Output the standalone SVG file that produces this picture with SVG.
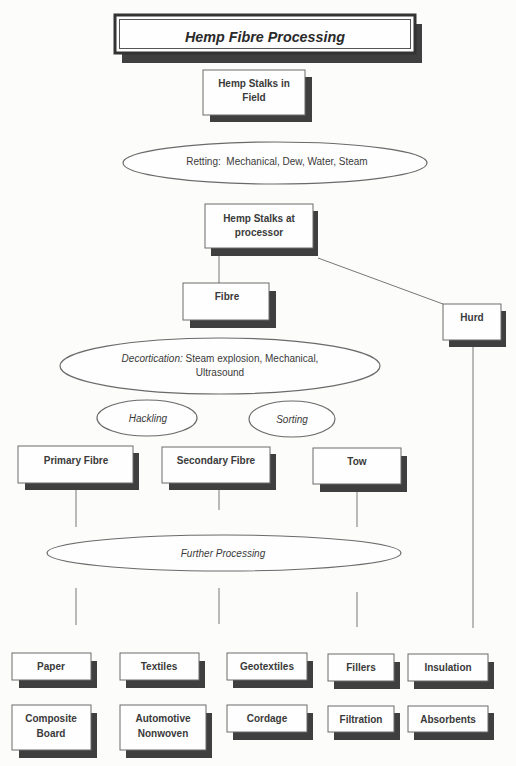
<svg xmlns="http://www.w3.org/2000/svg" width="516" height="766" viewBox="0 0 516 766">
<style>
.bg{fill:#fcfcfa}
.sh{fill:#3f3f3f}
.bx{fill:#fefefe;stroke:#6a6a6a;stroke-width:1}
.el{fill:#fefefe;stroke:#6a6a6a;stroke-width:1.2}
.t{font-family:"Liberation Sans",Arial,sans-serif;font-size:10px;font-weight:bold;fill:#3a3a3a;text-anchor:middle}
.r{font-family:"Liberation Sans",Arial,sans-serif;font-size:10px;fill:#3a3a3a;text-anchor:middle}
.i{font-style:italic}
.ln{stroke:#777;stroke-width:1;fill:none}
</style>
<rect class="bg" x="0" y="0" width="516" height="766"/>

<g id="title">
<rect class="sh" x="122" y="24" width="300" height="39"/>
<rect x="115" y="15" width="300" height="38" fill="#fefefe" stroke="#333" stroke-width="3"/>
<rect x="119.5" y="19.5" width="291" height="29" fill="none" stroke="#555" stroke-width="1"/>
<text x="265" y="42" font-family="Liberation Sans,Arial,sans-serif" font-size="15" font-weight="bold" font-style="italic" fill="#2a2a2a" text-anchor="middle" textLength="160" lengthAdjust="spacingAndGlyphs">Hemp Fibre Processing</text>
</g>

<g id="connectors">
<line class="ln" x1="219" y1="256" x2="219" y2="283"/>
<line class="ln" x1="318" y1="258" x2="443" y2="304"/>
<line class="ln" x1="473" y1="347" x2="473" y2="628"/>
<line class="ln" x1="76" y1="490" x2="76" y2="527"/>
<line class="ln" x1="219" y1="490" x2="219" y2="510"/>
<line class="ln" x1="357" y1="492" x2="357" y2="527"/>
<line class="ln" x1="76" y1="588" x2="76" y2="625"/>
<line class="ln" x1="219" y1="588" x2="219" y2="624"/>
<line class="ln" x1="357" y1="592" x2="357" y2="627"/>
</g>

<g id="stalks-field">
<rect class="sh" x="210" y="77" width="102" height="45"/>
<rect class="bx" x="203" y="70" width="102" height="45"/>
<text class="t" x="254" y="87">Hemp Stalks in</text>
<text class="t" x="254" y="101">Field</text>
</g>

<g id="retting">
<ellipse class="el" cx="275" cy="163" rx="152" ry="21"/>
<text class="r" x="277" y="165">Retting:&#160; Mechanical, Dew, Water, Steam</text>
</g>

<g id="stalks-processor">
<rect class="sh" x="211" y="211" width="107" height="45"/>
<rect class="bx" x="205" y="204" width="108" height="44"/>
<text class="t" x="259" y="222">Hemp Stalks at</text>
<text class="t" x="259" y="236">processor</text>
</g>

<g id="fibre">
<rect class="sh" x="190" y="291" width="86" height="37"/>
<rect class="bx" x="183" y="283" width="86" height="37"/>
<text class="t" x="227" y="300">Fibre</text>
</g>

<g id="hurd">
<rect class="sh" x="449" y="311" width="57" height="36"/>
<rect class="bx" x="443" y="304" width="58" height="36"/>
<text class="t" x="472" y="321">Hurd</text>
</g>

<g id="decortication">
<ellipse class="el" cx="220" cy="366" rx="160" ry="28"/>
<text class="r" x="220" y="362"><tspan class="i">Decortication:</tspan> Steam explosion, Mechanical,</text>
<text class="r" x="220" y="376">Ultrasound</text>
</g>

<g id="hackling">
<ellipse class="el" cx="147" cy="418" rx="50" ry="18"/>
<text class="r i" x="148" y="422">Hackling</text>
</g>

<g id="sorting">
<ellipse class="el" cx="292" cy="419" rx="43" ry="18"/>
<text class="r i" x="292" y="423">Sorting</text>
</g>

<g id="primary-fibre">
<rect class="sh" x="25" y="453" width="114" height="37"/>
<rect class="bx" x="18" y="446" width="115" height="37"/>
<text class="t" x="76" y="464">Primary Fibre</text>
</g>

<g id="secondary-fibre">
<rect class="sh" x="169" y="454" width="107" height="36"/>
<rect class="bx" x="162" y="447" width="108" height="36"/>
<text class="t" x="216" y="464">Secondary Fibre</text>
</g>

<g id="tow">
<rect class="sh" x="320" y="456" width="87" height="36"/>
<rect class="bx" x="313" y="448" width="88" height="36"/>
<text class="t" x="357" y="465">Tow</text>
</g>

<g id="further-processing">
<ellipse class="el" cx="224" cy="553" rx="177" ry="18"/>
<text class="r i" x="223" y="557">Further Processing</text>
</g>

<g id="paper">
<rect class="sh" x="19" y="661" width="78" height="27"/>
<rect class="bx" x="12" y="653" width="79" height="27"/>
<text class="t" x="51" y="670">Paper</text>
</g>
<g id="textiles">
<rect class="sh" x="126" y="661" width="79" height="27"/>
<rect class="bx" x="120" y="653" width="79" height="27"/>
<text class="t" x="159" y="670">Textiles</text>
</g>
<g id="geotextiles">
<rect class="sh" x="233" y="661" width="80" height="27"/>
<rect class="bx" x="227" y="653" width="80" height="27"/>
<text class="t" x="267" y="670">Geotextiles</text>
</g>
<g id="fillers">
<rect class="sh" x="334" y="662" width="66" height="27"/>
<rect class="bx" x="328" y="654" width="66" height="27"/>
<text class="t" x="361" y="671">Fillers</text>
</g>
<g id="insulation">
<rect class="sh" x="414" y="662" width="80" height="27"/>
<rect class="bx" x="408" y="654" width="80" height="27"/>
<text class="t" x="448" y="671">Insulation</text>
</g>

<g id="composite-board">
<rect class="sh" x="19" y="713" width="78" height="45"/>
<rect class="bx" x="12" y="705" width="79" height="45"/>
<text class="t" x="51" y="722">Composite</text>
<text class="t" x="51" y="737">Board</text>
</g>
<g id="automotive-nonwoven">
<rect class="sh" x="126" y="713" width="86" height="45"/>
<rect class="bx" x="120" y="705" width="86" height="45"/>
<text class="t" x="163" y="722">Automotive</text>
<text class="t" x="163" y="737">Nonwoven</text>
</g>
<g id="cordage">
<rect class="sh" x="233" y="713" width="80" height="27"/>
<rect class="bx" x="227" y="705" width="80" height="27"/>
<text class="t" x="267" y="722">Cordage</text>
</g>
<g id="filtration">
<rect class="sh" x="334" y="713" width="66" height="27"/>
<rect class="bx" x="328" y="706" width="66" height="26"/>
<text class="t" x="361" y="723">Filtration</text>
</g>
<g id="absorbents">
<rect class="sh" x="414" y="713" width="80" height="27"/>
<rect class="bx" x="408" y="706" width="80" height="26"/>
<text class="t" x="448" y="723">Absorbents</text>
</g>
</svg>
